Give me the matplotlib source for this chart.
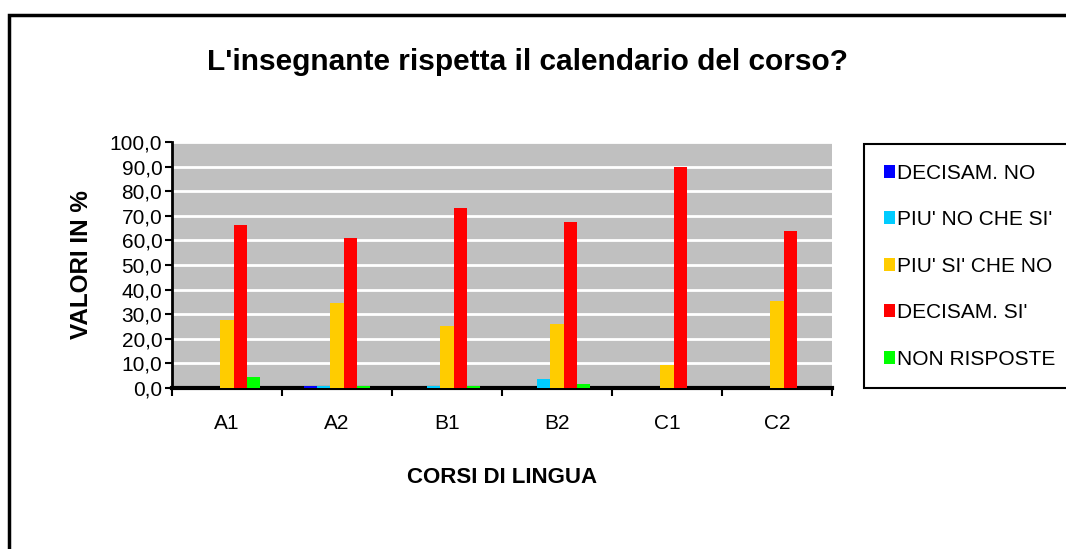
import matplotlib
matplotlib.use('Agg')
import matplotlib.pyplot as plt
from matplotlib.patches import Rectangle
from matplotlib.ticker import FuncFormatter
import numpy as np

plt.rcParams['font.family'] = ['Liberation Sans', 'DejaVu Sans']

# Data
corsi = ['A1', 'A2', 'B1', 'B2', 'C1', 'C2']
serie = ['DECISAM. NO', "PIU' NO CHE SI'", "PIU' SI' CHE NO", "DECISAM. SI'", 'NON RISPOSTE']
decisam_no = [0.0, 0.8, 0.0, 0.0, 0.0, 0.0]
piu_no = [0.0, 0.8, 0.8, 3.7, 0.0, 0.0]
piu_si = [27.8, 34.5, 25.2, 26.2, 9.3, 35.5]
decisam_si = [66.4, 60.8, 73.0, 67.4, 90.0, 63.7]
non_risposte = [4.5, 0.8, 0.8, 1.8, 0.0, 0.0]
colori = ['#0000FF', '#00CCFF', '#FFCC00', '#FF0000', '#00FF00']

valori = [decisam_no, piu_no, piu_si, decisam_si, non_risposte]

fig = plt.figure(figsize=(10.66, 5.49), dpi=100)
ax = fig.add_axes([0.1614, 0.2933, 0.6191, 0.448])
ax.set_facecolor('#C0C0C0')

x = np.arange(len(corsi))
w = 0.12
for i, (vals, nome, col) in enumerate(zip(valori, serie, colori)):
    ax.bar(x + (i - 2) * w, vals, width=w, color=col, label=nome, zorder=3)

ax.set_xlim(-0.5, len(corsi) - 0.5)
ax.set_ylim(0, 100)
ax.set_yticks(np.arange(0, 101, 10))
ax.yaxis.set_major_formatter(FuncFormatter(lambda v, p: f'{v:.1f}'.replace('.', ',')))
ax.yaxis.grid(True, color='white', linewidth=2, zorder=0)
ax.set_axisbelow(True)

# tick marks at group boundaries, labels at centres
ax.set_xticks(np.arange(-0.5, len(corsi), 1.0))
ax.set_xticklabels([])
ax.set_xticks(x, minor=True)
ax.set_xticklabels(corsi, minor=True)
ax.tick_params(axis='x', which='minor', length=0, pad=19, labelsize=15)
ax.tick_params(axis='x', which='major', direction='out', length=6, width=1.5)
ax.tick_params(axis='y', direction='out', length=5, width=1.5, labelsize=15, pad=2)

for s in ['top', 'right']:
    ax.spines[s].set_visible(False)
ax.spines['left'].set_linewidth(2)
ax.spines['bottom'].set_linewidth(3)

ax.set_ylabel('VALORI IN %', fontsize=17.5, fontweight='bold', labelpad=12)
ax.set_xlabel('CORSI DI LINGUA', fontsize=16, fontweight='bold', labelpad=24)

fig.text(0.495, 0.887, "L'insegnante rispetta il calendario del corso?",
         ha='center', va='center', fontsize=21.5, fontweight='bold')

leg = fig.legend(loc='upper left', bbox_to_anchor=(0.8105, 0.738), fontsize=15,
                 handlelength=0.55, handleheight=0.55, handletextpad=0.1,
                 labelspacing=1.32, borderpad=0.95, fancybox=False,
                 edgecolor='black', framealpha=1, borderaxespad=0)
leg.get_frame().set_linewidth(1.5)

fig.patches.append(Rectangle((9 / 1066, -0.05), 1.1, 1 - 15 / 549 + 0.05,
                             transform=fig.transFigure, fill=False,
                             edgecolor='black', linewidth=2.5))

fig.savefig('out.png', dpi=100)
